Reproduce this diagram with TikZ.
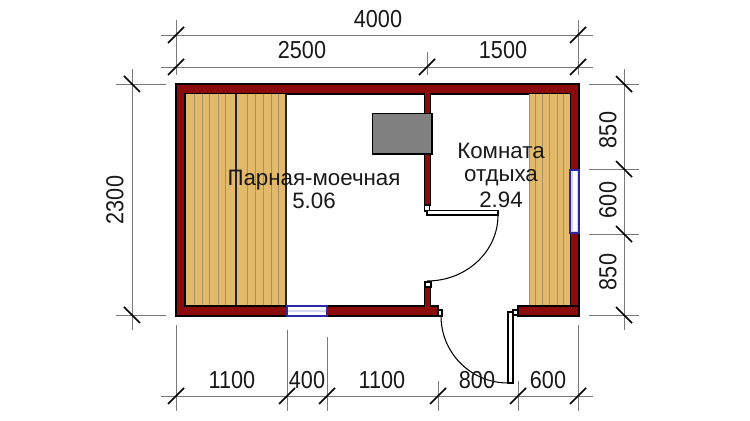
\documentclass[tikz,border=0pt]{standalone}
\usepackage{fontspec}
\setmainfont{Liberation Sans}
\newfontfamily\dimfont[FakeStretch=0.88]{Liberation Sans}
\definecolor{wallred}{HTML}{8B0A0A}
\definecolor{wood}{HTML}{E3BA6C}
\definecolor{slat}{HTML}{A89068}
\definecolor{stove}{HTML}{808080}
\definecolor{dimgray}{HTML}{7A7A7A}
\definecolor{winblue}{HTML}{2A2AA8}
\definecolor{winfill}{HTML}{D4D4F4}
\tikzset{
  wall/.style={fill=wallred,draw=black,line width=1.1pt,line join=miter},
  bench/.style={fill=wood,draw=none},
  slatline/.style={draw=slat,line width=0.55pt},
  blackedge/.style={draw=black!85,line width=0.8pt},
  dimline/.style={draw=dimgray,line width=0.55pt},
  ticks/.style={draw=black,line width=0.85pt},
  label/.style={inner sep=0pt,font=\dimfont\fontsize{14pt}{16pt}\selectfont,text=black!90},
  roomlabel/.style={inner sep=0pt,font=\fontsize{12.7pt}{14pt}\selectfont,text=black!90},
  leaf/.style={fill=white,draw=black,line width=0.6pt},
  swing/.style={draw=black,line width=0.6pt},
  window/.style={fill=winfill,draw=winblue,line width=0.8pt},
  stovebox/.style={fill=stove,draw=black,line width=0.7pt},
}
\newcommand{\forwardtick}[1]{\draw[ticks] (#1) +(-8,8) -- +(8,-8);}
\newcommand{\backtick}[1]{\draw[ticks] (#1) +(-8,-8) -- +(8,8);}
\begin{document}
\begin{tikzpicture}[x=0.02cm,y=-0.02cm]
\useasboundingbox (0,0) rectangle (750,421);
\fill[white] (0,0) rectangle (750,421);

% walls
\draw[wall,even odd rule] (176,84) rectangle (579,316) (185,94) rectangle (570,306);
% door opening and wall pieces
\fill[white] (439,305) rectangle (517,318);
\draw[wall] (327,306) rectangle (438,316);
\draw[wall] (518,306) rectangle (579,316);
\draw[wall] (424.5,94) rectangle (430.5,205);
\draw[wall] (424.5,287) rectangle (430.5,306);
\fill[wallred] (425.2,300) rectangle (429.8,307);
\fill[wallred] (425.2,93) rectangle (429.8,95);

% benches
\fill[bench] (185.5,94.5) rectangle (286,305.5);
\foreach \x in {194,202,209,218,225,247,255,263,271,278}
  \draw[slatline] (\x,94.5) -- (\x,305.5);
\draw[blackedge] (236,94.5) -- (236,305.5);
\draw[blackedge] (286,94.5) -- (286,305.5);
\fill[bench] (529,94.5) rectangle (569.5,305.5);
\foreach \x in {535,542,549,557,563}
  \draw[slatline] (\x,94.5) -- (\x,305.5);
\draw[slatline] (529,94.5) -- (529,305.5);

% windows
\draw[window] (287,306) rectangle (327,316);
\fill[white] (288,307.5) rectangle (326,310.3);
\fill[white] (288,312) rectangle (326,314.6);
\draw[window] (570,170) rectangle (579,233);
\fill[white] (572.5,171.5) rectangle (576.5,231.5);

% stove
\node[stovebox,minimum width=1.19cm,minimum height=0.81cm,inner sep=0pt,anchor=north west] (stove) at (372,113) {};

% doors
\draw[leaf] (424.5,205) rectangle (429.5,211);
\draw[leaf] (427,210.5) rectangle (498,215);
\draw[leaf] (425,282) rectangle (431,287);
\draw[swing] (498,215) .. controls (498,252) and (466,281) .. (427,281);
\draw[leaf] (438,310) rectangle (442,316);
\draw[leaf] (513,310) rectangle (517.5,315);
\draw[leaf] (508,312) rectangle (513,383);
\draw[swing] (441,316) .. controls (441,353) and (471,383) .. (508,383);

% room labels
\node[roomlabel] (room1) at (314,180) {Парная-моечная};
\node[roomlabel] (room1a) at (314,201) {5.06};
\node[roomlabel] (room2) at (501,151) {Комната};
\node[roomlabel] (room2a) at (501,178) {отдыха};
\node[roomlabel] (room2b) at (501,200) {2.94};

% dimension anchors, top
\coordinate (tl1) at (176,35); \coordinate (tr1) at (578,35);
\coordinate (tl2) at (176,67); \coordinate (tm2) at (427,67); \coordinate (tr2) at (578,67);
\coordinate (tlx) at (161,35); \coordinate (trx) at (593,35);
\coordinate (tly) at (161,67); \coordinate (try) at (593,67);
\coordinate (et1) at (176,20); \coordinate (et2) at (176,75);
\coordinate (et3) at (578,20); \coordinate (et4) at (578,75);
\coordinate (et5) at (427,52); \coordinate (et6) at (427,75);
\draw[dimline] (tlx) -- (trx);
\draw[dimline] (tly) -- (try);
\draw[dimline] (et1) -- (et2);
\draw[dimline] (et3) -- (et4);
\draw[dimline] (et5) -- (et6);
\foreach \n in {tl1,tr1,tl2,tm2,tr2} {\forwardtick{\n}}

% left
\coordinate (l1) at (132,84); \coordinate (l2) at (132,315);
\coordinate (lt) at (132,69); \coordinate (lb) at (132,330);
\coordinate (la) at (116,84); \coordinate (lc) at (166,84);
\coordinate (ld) at (116,315); \coordinate (le) at (166,315);
\draw[dimline] (lt) -- (lb);
\draw[dimline] (la) -- (lc);
\draw[dimline] (ld) -- (le);
\backtick{l1} \backtick{l2}

% right
\coordinate (r1) at (624,84); \coordinate (r2) at (624,169);
\coordinate (r3) at (624,234); \coordinate (r4) at (624,315);
\coordinate (rt) at (624,69); \coordinate (rb) at (624,330);
\draw[dimline] (rt) -- (rb);
\foreach \n in {r1,r2,r3,r4} {
  \draw[dimline] (\n) +(-35,0) -- +(15,0);
  \backtick{\n}
}

% bottom
\coordinate (b1) at (176,396); \coordinate (b2) at (287,396); \coordinate (b3) at (327,396);
\coordinate (b4) at (438,396); \coordinate (b5) at (518,396); \coordinate (b6) at (578,396);
\coordinate (bl) at (161,396); \coordinate (br) at (593,396);
\draw[dimline] (bl) -- (br);
\coordinate (e1) at (176,325); \coordinate (f1) at (176,411);
\coordinate (e2) at (287,330); \coordinate (f2) at (287,411);
\coordinate (e3) at (327,337); \coordinate (f3) at (327,411);
\coordinate (e4) at (438,381); \coordinate (f4) at (438,411);
\coordinate (e5) at (518,381); \coordinate (f5) at (518,411);
\coordinate (e6) at (578,325); \coordinate (f6) at (578,411);
\foreach \i in {1,...,6} {\draw[dimline] (e\i) -- (f\i);}
\foreach \n in {b1,b2,b3,b4,b5,b6} {\forwardtick{\n}}

% dimension labels
\node[label] (d4000) at (378,19) {4000};
\node[label] (d2500) at (302,50) {2500};
\node[label] (d1500) at (503,50) {1500};
\node[label,rotate=90] (d2300) at (115,200) {2300};
\node[label,rotate=90] (d850a) at (608,130) {850};
\node[label,rotate=90] (d600) at (608,200) {600};
\node[label,rotate=90] (d850b) at (608,272) {850};
\node[label] (d1100a) at (232,380) {1100};
\node[label] (d400) at (307,380) {400};
\node[label] (d1100b) at (382,380) {1100};
\node[label] (d800) at (477,380) {800};
\node[label] (d600b) at (548,380) {600};
\end{tikzpicture}
\end{document}
